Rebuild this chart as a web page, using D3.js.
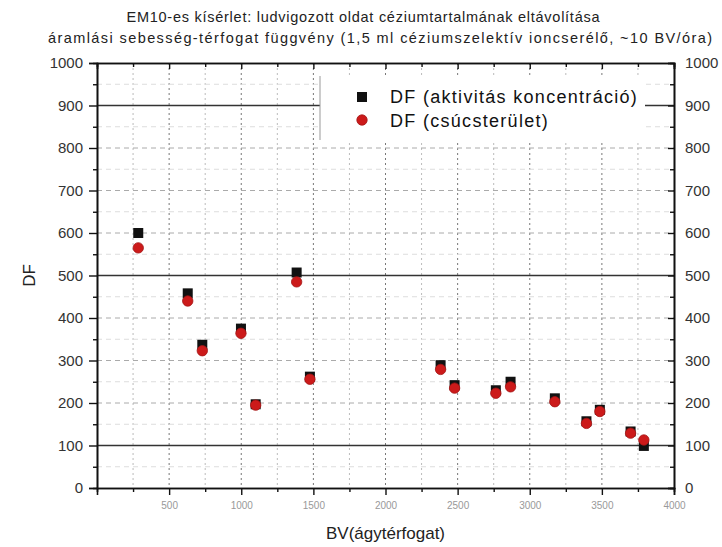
<!DOCTYPE html>
<html>
<head>
<meta charset="utf-8">
<script src="https://cdn.jsdelivr.net/npm/d3@7"></script>
<style>
  body { margin: 0; background: #fff; }
  svg text { font-family: "Liberation Sans", Arial, sans-serif; }
</style>
</head>
<body>
<div id="chart"></div>
<script>
// BV values (x) and the two DF series
const bv = [286, 629, 730, 998, 1100, 1384, 1476, 2382, 2479, 2765, 2867, 3174, 3393, 3486, 3699, 3791];
const dfActivity = [600, 458, 337, 375, 197, 507, 262, 289, 242, 230, 250, 211, 157, 184, 133, 99];
const dfPeak = [565, 440, 323, 364, 195, 485, 256, 279, 235, 223, 238, 203, 152, 180, 129, 113];
const seriesNames = ["DF (aktivitás koncentráció)", "DF (csúcsterület)"];
const titleLines = [
  "EM10-es kísérlet: ludvigozott oldat céziumtartalmának eltávolítása",
  "áramlási sebesség-térfogat függvény (1,5 ml céziumszelektív ioncserélő, ~10 BV/óra)"
];
const xTicks = [500, 1000, 1500, 2000, 2500, 3000, 3500, 4000];
const yTicks = [0, 100, 200, 300, 400, 500, 600, 700, 800, 900, 1000];
const strongLines = [100, 500, 900];

const W = 722, H = 547;
const margin = {top: 63, right: 48, bottom: 59, left: 97};
const width = W - margin.left - margin.right;
const height = H - margin.top - margin.bottom;

const svg = d3.select("#chart").append("svg")
  .attr("width", W).attr("height", H);

const g = svg.append("g")
  .attr("transform", "translate(" + margin.left + "," + margin.top + ")");

const x = d3.scaleLinear().domain([0, 4000]).range([0, width]);
const y = d3.scaleLinear().domain([0, 1000]).range([height, 0]);

// grid lines
const minorX = d3.range(250, 4000, 250);
g.selectAll(".vgrid").data(minorX).enter().append("line")
  .attr("x1", d => x(d)).attr("x2", d => x(d))
  .attr("y1", 0).attr("y2", height)
  .attr("stroke", d => d % 500 === 0 ? "#777" : "#bbb")
  .attr("stroke-width", 1)
  .attr("stroke-dasharray", "2,3");

const minorY = d3.range(50, 1000, 50);
g.selectAll(".hgrid").data(minorY).enter().append("line")
  .attr("x1", 0).attr("x2", width)
  .attr("y1", d => y(d)).attr("y2", d => y(d))
  .attr("stroke", d => d % 100 === 0 ? "#aaa" : "#ddd")
  .attr("stroke-width", 1)
  .attr("stroke-dasharray", "5,4");

g.selectAll(".strong").data(strongLines).enter().append("line")
  .attr("x1", 0).attr("x2", width)
  .attr("y1", d => y(d)).attr("y2", d => y(d))
  .attr("stroke", "#333")
  .attr("stroke-width", 1.3);

// axes
function styleAxis(sel) {
  sel.select(".domain").attr("stroke", "#111").attr("stroke-width", 1.6);
  sel.selectAll(".tick line").attr("stroke", "#111").attr("stroke-width", 1.4);
}

// minor ticks first
g.append("g").attr("transform", "translate(0," + height + ")")
  .call(d3.axisBottom(x).tickValues(d3.range(250, 4000, 500)).tickSize(4).tickFormat(""))
  .call(styleAxis);
g.append("g")
  .call(d3.axisTop(x).tickValues(d3.range(250, 4000, 500)).tickSize(-4).tickFormat(""))
  .call(styleAxis);
g.append("g")
  .call(d3.axisLeft(y).tickValues(d3.range(50, 1000, 100)).tickSize(4).tickFormat(""))
  .call(styleAxis);
g.append("g").attr("transform", "translate(" + width + ",0)")
  .call(d3.axisRight(y).tickValues(d3.range(50, 1000, 100)).tickSize(-4).tickFormat(""))
  .call(styleAxis);

const xAxis = g.append("g").attr("transform", "translate(0," + height + ")")
  .call(d3.axisBottom(x).tickValues(xTicks).tickSize(7).tickPadding(7).tickFormat(d3.format("d")))
  .call(styleAxis);
xAxis.selectAll("text").attr("font-size", 10).attr("fill", "#999");

g.append("g")
  .call(d3.axisTop(x).tickValues(xTicks).tickSize(-6).tickFormat(""))
  .call(styleAxis);

const yAxis = g.append("g")
  .call(d3.axisLeft(y).tickValues(yTicks).tickSize(8).tickPadding(6).tickFormat(d3.format("d")))
  .call(styleAxis);
yAxis.selectAll("text").attr("font-size", 15).attr("fill", "#333");

const yAxisR = g.append("g").attr("transform", "translate(" + width + ",0)")
  .call(d3.axisRight(y).tickValues(yTicks).tickSize(-6).tickPadding(11).tickFormat(d3.format("d")))
  .call(styleAxis);
yAxisR.selectAll("text").attr("font-size", 15).attr("fill", "#333");

// legend background
const legend = g.append("g").attr("transform", "translate(" + (320 - margin.left) + "," + (76 - margin.top) + ")");
legend.append("rect")
  .attr("width", 325).attr("height", 64)
  .attr("fill", "#fff");
legend.append("line")
  .attr("x1", 0).attr("x2", 0).attr("y1", 0).attr("y2", 64)
  .attr("stroke", "#999").attr("stroke-width", 1);

// data
const pts = bv.map((d, i) => ({bv: d, a: dfActivity[i], p: dfPeak[i]}));

g.selectAll(".sq").data(pts).enter().append("rect")
  .attr("class", "sq")
  .attr("x", d => x(d.bv) - 5)
  .attr("y", d => y(d.a) - 5)
  .attr("width", 10).attr("height", 10)
  .attr("fill", "#111");

g.selectAll(".dot").data(pts).enter().append("circle")
  .attr("class", "dot")
  .attr("cx", d => x(d.bv))
  .attr("cy", d => y(d.p))
  .attr("r", 5.2)
  .attr("fill", "#cc1a1a")
  .attr("stroke", "#a31515")
  .attr("stroke-width", 0.8);

// legend entries
legend.append("rect").attr("x", 37).attr("y", 16).attr("width", 10).attr("height", 10).attr("fill", "#111");
legend.append("circle").attr("cx", 42).attr("cy", 44).attr("r", 5.2).attr("fill", "#cc1a1a").attr("stroke", "#a31515").attr("stroke-width", 0.8);
legend.selectAll(".ltxt").data(seriesNames).enter().append("text")
  .attr("x", 70).attr("y", (d, i) => 21 + i * 24)
  .attr("dy", "0.35em")
  .attr("font-size", 18)
  .attr("letter-spacing", 1.3)
  .attr("fill", "#111")
  .text(d => d);

// titles: widths/centres measured on the reference
const titleWidth = [473, 664], titleCx = [363, 380];
svg.selectAll(".title").data(titleLines).enter().append("text")
  .attr("x", (d, i) => titleCx[i]).attr("y", (d, i) => 17 + i * 21)
  .attr("dy", "0.35em")
  .attr("text-anchor", "middle")
  .attr("font-size", 14.5)
  .attr("textLength", (d, i) => titleWidth[i])
  .attr("lengthAdjust", "spacing")
  .attr("fill", "#222")
  .text(d => d);

svg.append("text")
  .attr("x", margin.left + width / 2).attr("y", 533)
  .attr("dy", "0.35em")
  .attr("text-anchor", "middle")
  .attr("font-size", 17)
  .attr("fill", "#222")
  .text("BV(ágytérfogat)");

svg.append("text")
  .attr("transform", "translate(29," + (margin.top + height / 2) + ") rotate(-90)")
  .attr("dy", "0.35em")
  .attr("text-anchor", "middle")
  .attr("font-size", 17)
  .attr("fill", "#222")
  .text("DF");
</script>
</body>
</html>
